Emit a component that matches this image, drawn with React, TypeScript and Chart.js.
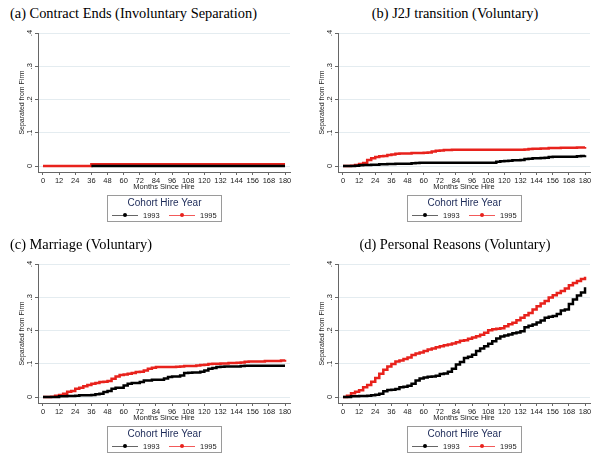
import { useEffect, useRef } from "react";
import Chart from "chart.js/auto";

// months since hire, values read every 3 months off the picture
const months = [
  0, 3, 6, 9, 12, 15, 18, 21, 24, 27,
  30, 33, 36, 39, 42, 45, 48, 51, 54, 57,
  60, 63, 66, 69, 72, 75, 78, 81, 84, 87,
  90, 93, 96, 99, 102, 105, 108, 111, 114, 117,
  120, 123, 126, 129, 132, 135, 138, 141, 144, 147,
  150, 153, 156, 159, 162, 165, 168, 171, 174, 177,
  180,
];

// 1993 curve only shows up from month ~35 in panel (a)
const contract1993 = [
  null, null, null, null, null, null, null, null, null, null,
  null, null, 0, 0, 0, 0, 0, 0, 0, 0,
  0, 0, 0, 0, 0, 0, 0, 0, 0, 0,
  0, 0, 0, 0, 0, 0, 0, 0, 0, 0,
  0, 0, 0, 0, 0, 0, 0, 0, 0, 0,
  0, 0, 0, 0, 0, 0, 0, 0, 0, 0,
  0,
];
const contract1995 = [
  0, 0, 0, 0, 0, 0, 0, 0, 0, 0,
  0, 0, 0.005, 0.005, 0.005, 0.005, 0.005, 0.005, 0.005, 0.005,
  0.005, 0.005, 0.005, 0.005, 0.005, 0.005, 0.005, 0.005, 0.005, 0.005,
  0.005, 0.005, 0.005, 0.005, 0.005, 0.005, 0.005, 0.005, 0.005, 0.005,
  0.005, 0.005, 0.005, 0.005, 0.005, 0.005, 0.005, 0.005, 0.005, 0.005,
  0.005, 0.005, 0.005, 0.005, 0.005, 0.005, 0.005, 0.005, 0.005, 0.005,
  0.005,
];

const j2j1993 = [
  0, 0, 0, 0.001, 0.002, 0.003, 0.003, 0.004, 0.004, 0.005,
  0.005, 0.006, 0.006, 0.007, 0.007, 0.007, 0.007, 0.008, 0.009, 0.01,
  0.01, 0.01, 0.01, 0.01, 0.01, 0.01, 0.01, 0.01, 0.01, 0.01,
  0.01, 0.01, 0.01, 0.01, 0.01, 0.01, 0.01, 0.01, 0.013, 0.014,
  0.015, 0.016, 0.017, 0.017, 0.018, 0.021, 0.022, 0.023, 0.023, 0.024,
  0.025, 0.027, 0.028, 0.028, 0.028, 0.028, 0.028, 0.028, 0.029, 0.03,
  0.032,
];
const j2j1995 = [
  0, 0, 0.001, 0.003, 0.006, 0.009, 0.018, 0.023, 0.027, 0.029,
  0.03, 0.033, 0.035, 0.037, 0.038, 0.038, 0.038, 0.039, 0.039, 0.039,
  0.04, 0.041, 0.044, 0.046, 0.047, 0.048, 0.048, 0.049, 0.049, 0.049,
  0.049, 0.049, 0.049, 0.049, 0.049, 0.049, 0.049, 0.049, 0.049, 0.049,
  0.049, 0.049, 0.049, 0.049, 0.049, 0.05, 0.051, 0.052, 0.052, 0.053,
  0.053, 0.054, 0.054, 0.054, 0.055, 0.055, 0.055, 0.055, 0.056, 0.056,
  0.057,
];

const marriage1993 = [
  0, 0, 0, 0, 0.002, 0.002, 0.003, 0.003, 0.004, 0.005,
  0.005, 0.005, 0.006, 0.008, 0.01, 0.015, 0.018, 0.025, 0.028, 0.028,
  0.035, 0.04, 0.042, 0.042, 0.045, 0.05, 0.05, 0.052, 0.052, 0.052,
  0.056, 0.06, 0.062, 0.062, 0.065, 0.072, 0.073, 0.074, 0.074, 0.076,
  0.08, 0.085, 0.087, 0.09, 0.091, 0.092, 0.092, 0.092, 0.092, 0.093,
  0.094, 0.094, 0.094, 0.094, 0.094, 0.094, 0.094, 0.094, 0.094, 0.094,
  0.094,
];
const marriage1995 = [
  0, 0, 0.001, 0.004, 0.006, 0.01, 0.016, 0.018, 0.025, 0.028,
  0.032, 0.036, 0.04, 0.042, 0.045, 0.046, 0.048, 0.055, 0.062, 0.066,
  0.068, 0.07, 0.072, 0.075, 0.076, 0.08, 0.085, 0.088, 0.09, 0.09,
  0.09, 0.09, 0.09, 0.091, 0.092, 0.093, 0.093, 0.093, 0.095, 0.096,
  0.097, 0.099, 0.1, 0.1, 0.101, 0.101, 0.102, 0.102, 0.103, 0.104,
  0.106, 0.107, 0.107, 0.107, 0.107, 0.108, 0.108, 0.108, 0.108, 0.11,
  0.112,
];

const personal1993 = [
  0, 0, 0.002, 0.002, 0.003, 0.003, 0.004, 0.005, 0.007, 0.01,
  0.017, 0.021, 0.022, 0.024, 0.029, 0.031, 0.034, 0.04, 0.05, 0.056,
  0.059, 0.061, 0.062, 0.064, 0.069, 0.071, 0.076, 0.085, 0.098, 0.105,
  0.117, 0.121, 0.127, 0.138, 0.146, 0.153, 0.16, 0.168, 0.176, 0.182,
  0.185, 0.188, 0.192, 0.194, 0.198, 0.21, 0.214, 0.218, 0.224, 0.23,
  0.238, 0.241, 0.244, 0.25, 0.26, 0.263, 0.28, 0.293, 0.305, 0.314,
  0.33,
];
const personal1995 = [
  0, 0.004, 0.011, 0.016, 0.02, 0.029, 0.036, 0.046, 0.057, 0.07,
  0.082, 0.092, 0.099, 0.107, 0.11, 0.114, 0.119, 0.126, 0.131, 0.134,
  0.138, 0.143, 0.146, 0.15, 0.153, 0.156, 0.158, 0.161, 0.165, 0.169,
  0.171, 0.175, 0.179, 0.183, 0.187, 0.193, 0.201, 0.204, 0.205, 0.207,
  0.213, 0.219, 0.223, 0.231, 0.238, 0.246, 0.253, 0.263, 0.273, 0.281,
  0.289, 0.299, 0.306, 0.313, 0.319, 0.326, 0.336, 0.343, 0.349, 0.355,
  0.362,
];

const xTicks = [
  0, 12, 24, 36, 48, 60, 72, 84, 96, 108, 120, 132, 144, 156, 168, 180,
];
const yTicks = [0, 0.1, 0.2, 0.3, 0.4];
const cohortLabels = ["1993", "1995"];

const SANS = "'Liberation Sans', Arial, sans-serif";
const SERIF = "'Liberation Serif', 'Times New Roman', serif";
const RED = "#e8221c";
const AXIS = "#666";

type PanelProps = {
  title: string;
  centered: boolean;
  left: number;
  top: number;
  s1993: (number | null)[];
  s1995: number[];
};

function Panel({ title, centered, left, top, s1993, s1995 }: PanelProps) {
  const canvasRef = useRef<HTMLCanvasElement | null>(null);

  useEffect(() => {
    if (!canvasRef.current) return;
    const tickFont = { family: SANS, size: 7.5 };

    const chart = new Chart(canvasRef.current, {
      type: "line",
      data: {
        datasets: [
          {
            label: cohortLabels[0],
            data: months.map((m, i) => ({ x: m, y: s1993[i] })),
            borderColor: "#000",
            borderWidth: 2.5,
            stepped: true,
            pointRadius: 0,
            order: 0,
          },
          {
            label: cohortLabels[1],
            data: months.map((m, i) => ({ x: m, y: s1995[i] })),
            borderColor: RED,
            borderWidth: 2.5,
            stepped: true,
            pointRadius: 0,
            order: 1,
          },
        ],
      },
      options: {
        animation: false,
        responsive: false,
        maintainAspectRatio: false,
        layout: { padding: { top: 33, left: 18, right: 10, bottom: 37 } },
        plugins: { legend: { display: false }, tooltip: { enabled: false } },
        scales: {
          x: {
            type: "linear",
            min: -3.7,
            max: 183.7,
            afterBuildTicks: (axis) => {
              axis.ticks = xTicks.map((v) => ({ value: v }));
            },
            afterFit: (axis) => {
              axis.height = 19;
            },
            ticks: {
              font: tickFont,
              color: "#222",
              padding: 1,
              maxRotation: 0,
              autoSkip: false,
            },
            grid: { drawOnChartArea: false, tickLength: 3, tickColor: AXIS },
            border: { color: AXIS },
            title: {
              display: true,
              text: "Months Since Hire",
              font: tickFont,
              color: "#222",
              padding: 0,
            },
          },
          y: {
            min: -0.018,
            max: 0.4,
            afterBuildTicks: (axis) => {
              axis.ticks = yTicks.map((v) => ({ value: v }));
            },
            afterFit: (axis) => {
              axis.width = 20;
            },
            ticks: {
              font: tickFont,
              color: "#222",
              padding: 2,
              minRotation: 90,
              maxRotation: 90,
              crossAlign: "center",
              callback: (v) =>
                Number(v) === 0 ? "0" : String(v).replace(/^0/, ""),
            },
            grid: { color: "#e4ecf0", tickLength: 3, tickColor: AXIS },
            border: { color: AXIS },
            title: {
              display: true,
              text: "Separated from Firm",
              font: { family: SANS, size: 7 },
              color: "#222",
              padding: 0,
            },
          },
        },
      },
    });

    return () => chart.destroy();
  }, [s1993, s1995]);

  return (
    <div
      style={{ position: "absolute", left, top, width: 300, height: 228 }}
    >
      <div
        style={{
          position: "absolute",
          top: 4,
          left: 10,
          width: centered ? 290 : undefined,
          textAlign: centered ? "center" : "left",
          fontFamily: SERIF,
          fontSize: 14.4,
          lineHeight: "18px",
          whiteSpace: "nowrap",
          color: "#000",
        }}
      >
        {title}
      </div>
      <canvas
        ref={canvasRef}
        width={300}
        height={228}
        style={{ position: "absolute", left: 0, top: 0 }}
      />
      <div
        style={{
          position: "absolute",
          left: 107,
          top: 195,
          width: 113,
          height: 25,
          border: "1px solid #9a9a9a",
          fontFamily: SANS,
        }}
      >
        <div
          style={{
            textAlign: "center",
            fontSize: 10,
            lineHeight: "12px",
            marginTop: 1,
            color: "#1c2a58",
          }}
        >
          Cohort Hire Year
        </div>
        {[0, 1].map((k) => (
          <div
            key={k}
            style={{
              position: "absolute",
              top: 14,
              left: k === 0 ? 4 : 61,
              height: 10,
              display: "flex",
              alignItems: "center",
              fontSize: 7.5,
              color: "#222",
            }}
          >
            <div
              style={{
                position: "relative",
                width: 26,
                height: 1,
                background: k === 0 ? "#666" : "#f25a5a",
                marginRight: 5,
              }}
            >
              <div
                style={{
                  position: "absolute",
                  left: 11,
                  top: -1.5,
                  width: 4,
                  height: 4,
                  borderRadius: 2,
                  background: k === 0 ? "#000" : RED,
                }}
              />
            </div>
            {cohortLabels[k]}
          </div>
        ))}
      </div>
    </div>
  );
}

export default function App() {
  return (
    <div
      style={{
        position: "absolute",
        left: 0,
        top: 0,
        width: 600,
        height: 459,
        background: "#fff",
        overflow: "hidden",
      }}
    >
      <Panel
        title="(a) Contract Ends (Involuntary Separation)"
        centered={false}
        left={0}
        top={0}
        s1993={contract1993}
        s1995={contract1995}
      />
      <Panel
        title="(b) J2J transition (Voluntary)"
        centered={true}
        left={300}
        top={0}
        s1993={j2j1993}
        s1995={j2j1995}
      />
      <Panel
        title="(c) Marriage (Voluntary)"
        centered={false}
        left={0}
        top={231}
        s1993={marriage1993}
        s1995={marriage1995}
      />
      <Panel
        title="(d) Personal Reasons (Voluntary)"
        centered={true}
        left={300}
        top={231}
        s1993={personal1993}
        s1995={personal1995}
      />
    </div>
  );
}
